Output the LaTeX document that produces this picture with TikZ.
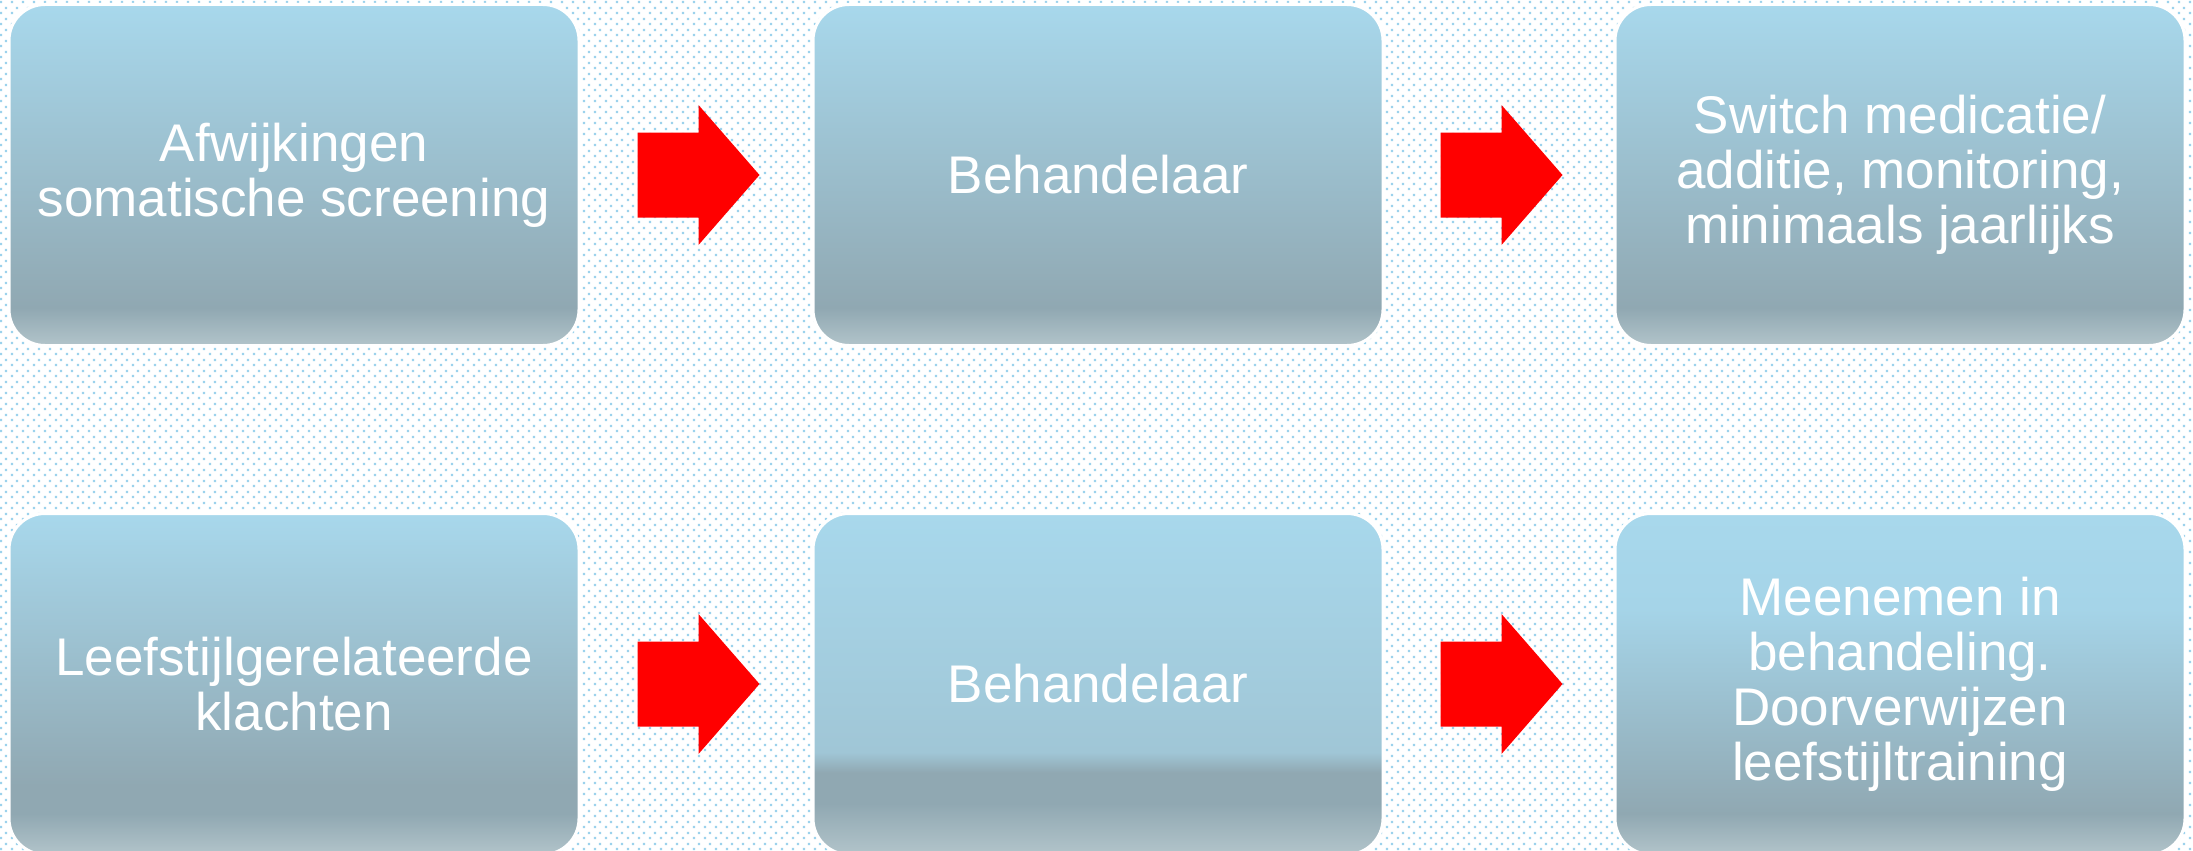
\documentclass[tikz,border=0pt]{standalone}
\usepackage{fontspec}
\setmainfont{Liberation Sans}
\usetikzlibrary{patterns,calc}
\definecolor{lb}{RGB}{168,216,236}
\definecolor{lbb}{RGB}{165,212,232}
\definecolor{mb}{RGB}{160,198,214}
\definecolor{gr}{RGB}{144,168,178}
\definecolor{bl}{RGB}{178,196,202}
\definecolor{dotc}{RGB}{156,210,236}
\definecolor{arrowred}{RGB}{255,0,0}
\pgfdeclareverticalshading{shA}{100bp}{color(0bp)=(bl); color(25bp)=(bl); color(30.5bp)=(gr); color(75bp)=(lb); color(100bp)=(lb)}
\pgfdeclareverticalshading{shB}{100bp}{color(0bp)=(bl); color(25bp)=(bl); color(32.5bp)=(gr); color(37bp)=(gr); color(40bp)=(mb); color(75bp)=(lb); color(100bp)=(lb)}
\pgfdeclareverticalshading{shC}{100bp}{color(0bp)=(bl); color(25bp)=(bl); color(31bp)=(gr); color(61bp)=(lbb); color(75bp)=(lb); color(100bp)=(lb)}
\pgfdeclareverticalshading{shD}{100bp}{color(0bp)=(bl); color(25bp)=(bl); color(31bp)=(gr); color(35bp)=(gr); color(75bp)=(lb); color(100bp)=(lb)}
\pgfdeclarepatternformonly{bgdots}{\pgfpointorigin}{\pgfpoint{11pt}{11pt}}{\pgfpoint{11pt}{11pt}}{%
  \pgfpathrectangle{\pgfpoint{1pt}{1pt}}{\pgfpoint{2.3pt}{2.3pt}}%
  \pgfpathrectangle{\pgfpoint{6.5pt}{6.5pt}}{\pgfpoint{2.3pt}{2.3pt}}%
  \pgfusepath{fill}}
\tikzset{
  box/.style={rectangle, rounded corners=36pt, draw=white, line width=3pt,
    minimum width=570pt, minimum height=341pt, text=white, align=center,
    font=\fontsize{53}{55}\selectfont, inner sep=0pt},
  blockarrow/.pic={\fill[arrowred] (0,-42.5) -- (61,-42.5) -- (61,-70) -- (122,0)
    -- (61,70) -- (61,42.5) -- (0,42.5) -- cycle;}
}
\begin{document}
\begin{tikzpicture}[x=1pt,y=-1pt]
\useasboundingbox (0,0) rectangle (2193,851);
\clip (0,0) rectangle (2193,851);
\fill[white] (0,0) rectangle (2193,851);
\fill[pattern=bgdots, pattern color=dotc] (0,0) rectangle (2193,851);

\node[box, shading=shA] (a1) at (294,175) {Afwijkingen\\somatische screening};
\node[box, shading=shA] (a2) at (1098,175) {Behandelaar};
\node[box, shading=shA] (a3) at (1900,175) {Switch medicatie/\\additie, monitoring,\\minimaals jaarlijks};

\node[box, shading=shD] (b1) at (294,684) {Leefstijlgerelateerde\\klachten};
\node[box, shading=shB] (b2) at (1098,684) {Behandelaar};
\node[box, shading=shC] (b3) at (1900,684) {Meenemen in\\behandeling.\\Doorverwijzen\\leefstijltraining};

\path ($(a1.east)+(57,0)$) pic {blockarrow};
\path ($(a2.east)+(56,0)$) pic {blockarrow};
\path ($(b1.east)+(57,0)$) pic {blockarrow};
\path ($(b2.east)+(56,0)$) pic {blockarrow};
\end{tikzpicture}
\end{document}
